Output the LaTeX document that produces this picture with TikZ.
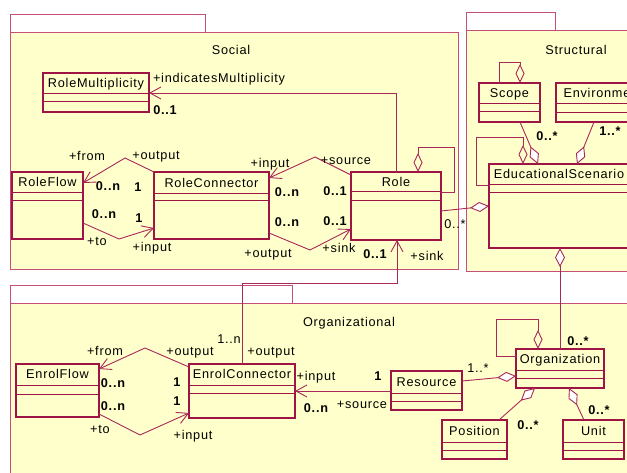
\documentclass[tikz,border=0pt]{standalone}
\usepackage{fontspec}
\setmainfont{Liberation Sans}[LetterSpace=6]
\usetikzlibrary{arrows.meta}
\definecolor{pkgfill}{HTML}{FFFFCC}
\definecolor{pkgline}{HTML}{C4507A}
\definecolor{clsline}{HTML}{9E1444}
\definecolor{connline}{HTML}{A8285A}
\newcommand\lblfont{\fontsize{12.7}{14}\selectfont}
\tikzset{
  pkgbody/.style={draw=pkgline, fill=pkgfill, line width=1pt},
  pkgtab/.style={draw=pkgline, fill=white, line width=1pt},
  clsbox/.style={draw=clsline, fill=pkgfill, line width=1.1pt, inner sep=0pt, outer sep=0pt},
  clssep/.style={draw=clsline, line width=1pt},
  txt/.style={inner sep=0pt, outer sep=0pt, font=\lblfont, text=black, text height=9pt, text depth=2.5pt},
  mult/.style={txt, font=\lblfont\bfseries},
  conn/.style={draw=connline, line width=0.9pt},
  barb/.style={arrows={-Straight Barb[length=11pt,width=12pt]}},
  agg/.style={arrows={Diamond[fill=white,length=19pt,width=10pt]-}},
  selfagg/.style={arrows={Diamond[open,length=19pt,width=9pt]-}},
}
% class box: name, x, y, width, height, first separator, second separator, title
\newcommand\umlcls[8]{%
  \node[clsbox, minimum width=#4pt, minimum height=#5pt] (#1) at (#2+#4/2, #3+#5/2) {};
  \draw[clssep] (#2,#3+#6) -- (#2+#4,#3+#6);
  \draw[clssep] (#2,#3+#7) -- (#2+#4,#3+#7);
  \node[txt] (#1-t) at (#2+#4/2, #3+#6/2+1) {#8};
}
\begin{document}
\begin{tikzpicture}[x=1pt,y=-1pt]
\useasboundingbox (0,0) rectangle (627,473);
\fill[white] (0,0) rectangle (627,473);
\clip (0,0) rectangle (627,473);

% packages
\draw[pkgtab] (10,15) rectangle (205,33);
\draw[pkgbody] (10,33) rectangle (458,270);
\draw[pkgtab] (466,13) rectangle (555,31);
\draw[pkgbody] (466,31) rectangle (660,272);
\draw[pkgtab] (10,286) rectangle (292,304);
\draw[pkgbody] (10,304) rectangle (660,495);
\node[txt] (pk-social) at (231,51) {Social};
\node[txt] (pk-struct) at (576,51) {Structural};
\node[txt] (pk-org) at (349,323) {Organizational};

% classes
\umlcls{rmult}{43}{73}{106}{39}{21}{29}{RoleMultiplicity}
\umlcls{rflow}{12}{172}{71}{67}{21}{29}{RoleFlow}
\umlcls{rconn}{154}{172}{115}{67}{22}{29}{RoleConnector}
\umlcls{role}{351}{172}{90}{68}{20}{29}{Role}
\umlcls{scope}{479}{83}{61}{39}{21}{29}{Scope}
\umlcls{env}{556}{83}{94}{39}{21}{30}{Environment}
\umlcls{edu}{489}{164}{140}{84}{21}{29}{EducationalScenario}
\umlcls{org}{516}{349}{88}{39}{21}{29}{Organization}
\umlcls{res}{391}{371}{71}{39}{22}{30}{Resource}
\umlcls{pos}{442}{420}{65}{39}{22}{30}{Position}
\umlcls{unit}{563}{420}{61}{39}{22}{30}{Unit}
\umlcls{eflow}{16}{364}{83}{53}{21}{30}{EnrolFlow}
\umlcls{econn}{189}{364}{106}{54}{21}{29}{EnrolConnector}

% Social associations
\draw[conn, barb] (role.north -| 396,0) -- (396,93) -- (rmult.east |- 0,93);
\draw[conn, selfagg] (role.north -| 418,0) -- (418,147) -- (454,147) -- (454,192) -- (role.east |- 0,192);
\draw[conn, agg] (edu.west |- 0,206) -- (role.east |- 0,211);
\draw[conn, barb] (rconn.north west) -- (125,158) -- (rflow.east |- 0,183);
\draw[conn, barb] (rflow.east |- 0,223) -- (119,239) -- (rconn.west |- 0,228);
\draw[conn, barb] (role.west |- 0,175) -- (315,157) -- (rconn.east |- 0,178);
\draw[conn, barb] (rconn.east |- 0,233) -- (310,250) -- (role.west |- 0,229);

% Organizational associations
\draw[conn, barb] (econn.north -| 242,0) -- (242,283) -- (397,283) -- (role.south -| 397,0);
\draw[conn, barb] (econn.west |- 0,367) -- (145,348) -- (eflow.east |- 0,369);
\draw[conn, barb] (eflow.east |- 0,414) -- (140,435) -- (econn.west |- 0,413);
\draw[conn, barb] (res.west |- 0,391) -- (econn.east |- 0,391);
\draw[conn, agg] (org.west |- 0,376) -- (res.east |- 0,381);
\draw[conn, selfagg] (org.north -| 538,0) -- (538,319) -- (496,319) -- (496,356) -- (org.west |- 0,356);
\draw[conn, agg] (edu.south -| 560,0) -- (org.north -| 560,0);
\draw[conn, agg] (org.south -| 535,0) -- (pos.north -| 499,0);
\draw[conn, agg] (org.south -| 569,0) -- (unit.north -| 584,0);

% Structural associations
\draw[conn, selfagg] (scope.north -| 520,0) -- (520,62) -- (499,62) -- (scope.north -| 499,0);
\draw[conn, agg] (edu.north -| 538,0) -- (scope.south -| 520,0);
\draw[conn, agg] (edu.north -| 577,0) -- (env.south -| 594,0);
\draw[conn, selfagg] (edu.north -| 523,0) -- (523,137) -- (476,137) -- (476,185) -- (edu.west |- 0,185);

% role names and multiplicities
\node[txt, anchor=west] (l-ind) at (153,79) {+indicatesMultiplicity};
\node[mult] (m-rmult) at (165,111) {0..1};
\node[txt] (l-from1) at (87,157) {+from};
\node[txt] (l-out1) at (156,156) {+output};
\node[mult] (m-rf1) at (108,187) {0..n};
\node[mult] (m-rc1) at (138,188) {1};
\node[mult] (m-rf2) at (104,215) {0..n};
\node[mult] (m-rc2) at (139,219) {1};
\node[txt] (l-to1) at (97,242) {+to};
\node[txt] (l-in1) at (152,248) {+input};
\node[txt] (l-in2) at (270,164) {+input};
\node[txt] (l-src1) at (346,161) {+source};
\node[mult] (m-rc3) at (287,193) {0..n};
\node[mult] (m-ro1) at (335,192) {0..1};
\node[mult] (m-rc4) at (287,223) {0..n};
\node[mult] (m-ro2) at (335,222) {0..1};
\node[txt] (l-out2) at (268,254) {+output};
\node[txt] (l-sink1) at (339,249) {+sink};
\node[mult] (m-ro3) at (375,255) {0..1};
\node[txt] (l-sink2) at (427,257) {+sink};
\node[txt] (m-edu1) at (455,225) {0..*};
\node[txt] (m-ec1) at (229,340) {1..n};
\node[txt] (l-out3) at (271,352) {+output};
\node[txt] (l-from2) at (105,352) {+from};
\node[txt] (l-out4) at (190,352) {+output};
\node[mult] (m-ef1) at (113,384) {0..n};
\node[mult] (m-ec2) at (177,383) {1};
\node[mult] (m-ef2) at (113,407) {0..n};
\node[mult] (m-ec3) at (177,402) {1};
\node[txt] (l-to2) at (100,430) {+to};
\node[txt] (l-in3) at (193,436) {+input};
\node[txt] (l-in4) at (316,377) {+input};
\node[mult] (m-res1) at (378,377) {1};
\node[mult] (m-ec4) at (316,409) {0..n};
\node[txt] (l-src2) at (362,405) {+source};
\node[txt] (m-res2) at (478,369) {1..*};
\node[mult] (m-org1) at (578,342) {0..*};
\node[mult] (m-pos) at (528,426) {0..*};
\node[mult] (m-unit) at (599,411) {0..*};
\node[mult] (m-scope) at (547,137) {0..*};
\node[mult] (m-env) at (610,132) {1..*};
\end{tikzpicture}
\end{document}
